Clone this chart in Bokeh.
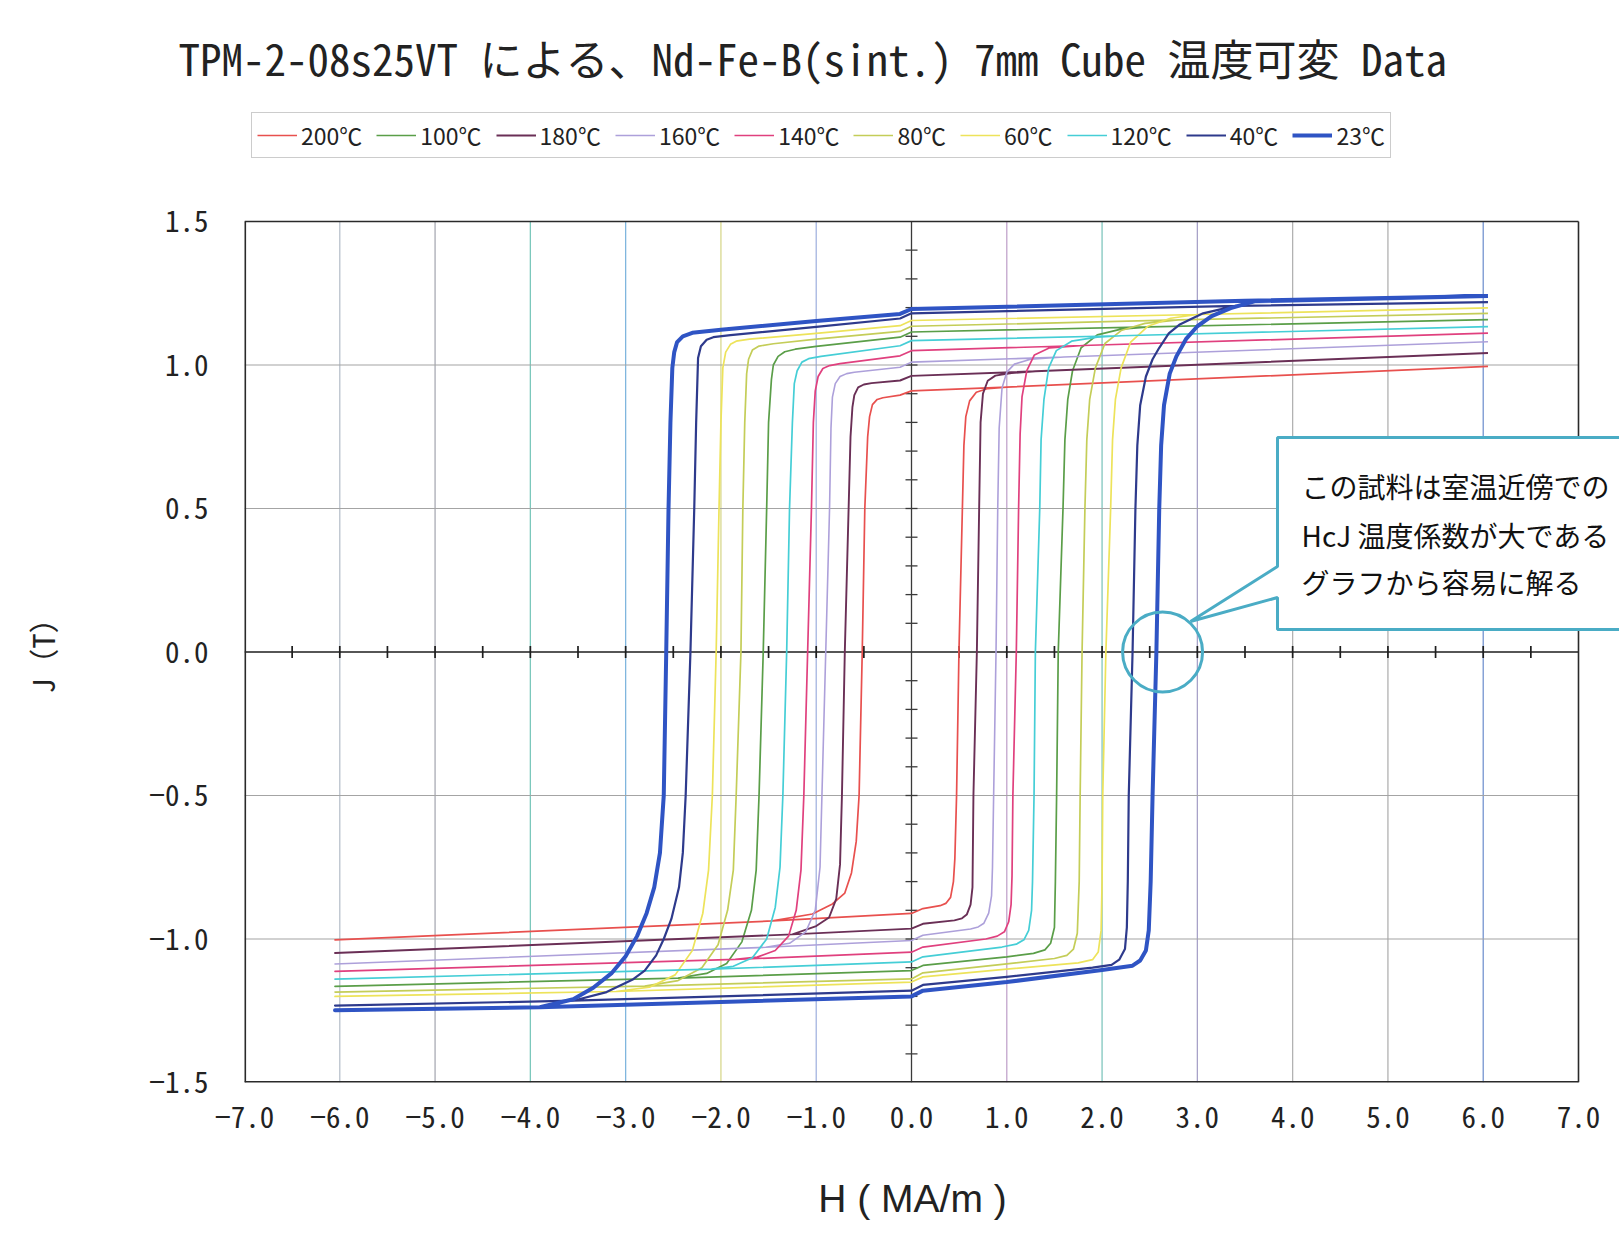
import numpy as np
from bokeh.plotting import figure
from bokeh.layouts import column
from bokeh.models import (Range1d, FixedTicker, Label, Legend, LegendItem, PolyAnnotation)
from bokeh.embed import file_html
from bokeh.resources import INLINE

# ---------------- texts ----------------
TITLE = "TPM-2-08s25VT による、Nd-Fe-B(sint.) 7mm Cube 温度可変 Data"
X_LABEL = "H ( MA/m )"
Y_LABEL = "J（T）"
NOTE_LINES = ["この試料は室温近傍での", "HcJ 温度係数が大である", "グラフから容易に解る"]

X_TICKS = [-7, -6, -5, -4, -3, -2, -1, 0, 1, 2, 3, 4, 5, 6, 7]
X_TICK_LABELS = ["−7.0", "−6.0", "−5.0", "−4.0", "−3.0", "−2.0", "−1.0", "0.0",
                 "1.0", "2.0", "3.0", "4.0", "5.0", "6.0", "7.0"]
Y_TICKS = [-1.5, -1.0, -0.5, 0.0, 0.5, 1.0, 1.5]
Y_TICK_LABELS = ["−1.5", "−1.0", "−0.5", "0.0", "0.5", "1.0", "1.5"]

SERIES_LABELS = ["200℃", "100℃", "180℃", "160℃", "140℃", "80℃", "60℃", "120℃", "40℃", "23℃"]

# ---------------- loops (H [MA/m], J [T]) ----------------
LOOP_23 = [(6.05, 1.240), (3.5, 1.224), (0.0, 1.195), (-0.12, 1.178), (-1.0, 1.153), (-2.0, 1.123),
           (-2.3, 1.112), (-2.40, 1.100), (-2.46, 1.080), (-2.49, 1.045), (-2.51, 0.99), (-2.53, 0.80),
           (-2.55, 0.50), (-2.574, 0.0), (-2.60, -0.50), (-2.64, -0.70), (-2.70, -0.82), (-2.78, -0.91),
           (-2.88, -0.99), (-3.00, -1.06), (-3.15, -1.12), (-3.34, -1.17), (-3.55, -1.21), (-3.9, -1.238),
           (-6.05, -1.248),
           (-3.9, -1.238), (0.0, -1.200), (0.12, -1.180), (1.0, -1.150), (2.0, -1.108), (2.32, -1.093),
           (2.40, -1.075), (2.46, -1.040), (2.49, -0.97), (2.51, -0.80), (2.53, -0.50), (2.57, 0.0),
           (2.60, 0.50), (2.62, 0.72), (2.65, 0.86), (2.71, 0.97), (2.78, 1.03), (2.88, 1.09),
           (3.00, 1.135), (3.15, 1.17), (3.35, 1.198), (3.6, 1.222), (6.05, 1.240)]
LOOP_40 = [(6.05, 1.219), (3.4, 1.206), (0.0, 1.180), (-0.12, 1.162), (-1.0, 1.133), (-1.9, 1.104),
           (-2.08, 1.097), (-2.15, 1.088), (-2.21, 1.065), (-2.24, 1.024), (-2.26, 0.80), (-2.28, 0.50),
           (-2.32, 0.0), (-2.37, -0.50), (-2.40, -0.70), (-2.44, -0.82), (-2.52, -0.93), (-2.60, -1.00),
           (-2.68, -1.057), (-2.80, -1.11), (-2.92, -1.14), (-3.2, -1.185), (-3.55, -1.215), (-6.05, -1.232),
           (-3.55, -1.215), (0.0, -1.180), (0.12, -1.160), (1.0, -1.132), (1.9, -1.100), (2.10, -1.090),
           (2.18, -1.072), (2.24, -1.035), (2.26, -0.96), (2.27, -0.80), (2.28, -0.50), (2.32, 0.0),
           (2.35, 0.50), (2.37, 0.72), (2.40, 0.86), (2.46, 0.96), (2.53, 1.02), (2.60, 1.06),
           (2.70, 1.11), (2.81, 1.14), (3.06, 1.18), (3.4, 1.206), (6.05, 1.219)]
LOOP_60 = [(6.05, 1.199), (3.0, 1.176), (0.0, 1.155), (-0.12, 1.137), (-1.0, 1.110), (-1.7, 1.090),
           (-1.84, 1.083), (-1.90, 1.072), (-1.95, 1.045), (-1.98, 0.99), (-2.00, 0.80), (-2.02, 0.50),
           (-2.05, 0.0), (-2.09, -0.50), (-2.13, -0.76), (-2.19, -0.91), (-2.30, -1.04), (-2.48, -1.125),
           (-2.75, -1.168), (-3.1, -1.183), (-6.05, -1.200),
           (-3.1, -1.183), (0.0, -1.150), (0.12, -1.132), (1.0, -1.105), (1.75, -1.083), (1.90, -1.072),
           (1.96, -1.045), (1.99, -0.97), (2.00, -0.80), (2.007, -0.50), (2.04, 0.0), (2.09, 0.50),
           (2.11, 0.74), (2.14, 0.88), (2.20, 0.99), (2.30, 1.08), (2.48, 1.135), (2.72, 1.163),
           (3.0, 1.176), (6.05, 1.199)]
LOOP_80 = [(6.05, 1.180), (2.8, 1.157), (0.0, 1.135), (-0.12, 1.117), (-1.0, 1.090), (-1.45, 1.074),
           (-1.60, 1.066), (-1.67, 1.052), (-1.71, 1.02), (-1.73, 0.97), (-1.75, 0.80), (-1.77, 0.50),
           (-1.79, 0.0), (-1.84, -0.50), (-1.87, -0.76), (-1.93, -0.90), (-2.03, -1.02), (-2.20, -1.10),
           (-2.45, -1.145), (-2.8, -1.164), (-6.05, -1.185),
           (-2.8, -1.164), (0.0, -1.139), (0.12, -1.118), (1.0, -1.087), (1.50, -1.068), (1.63, -1.057),
           (1.70, -1.035), (1.74, -0.98), (1.76, -0.80), (1.77, -0.50), (1.79, 0.0), (1.82, 0.50),
           (1.84, 0.74), (1.87, 0.88), (1.93, 0.99), (2.03, 1.075), (2.20, 1.12), (2.45, 1.145),
           (2.8, 1.157), (6.05, 1.180)]
LOOP_100 = [(6.05, 1.158), (2.5, 1.133), (0.0, 1.115), (-0.12, 1.097), (-1.0, 1.065), (-1.22, 1.055),
            (-1.33, 1.046), (-1.40, 1.030), (-1.45, 1.00), (-1.47, 0.95), (-1.50, 0.80), (-1.52, 0.50),
            (-1.556, 0.0), (-1.60, -0.50), (-1.63, -0.76), (-1.68, -0.90), (-1.78, -1.01), (-1.94, -1.085),
            (-2.15, -1.12), (-2.45, -1.136), (-6.05, -1.165),
            (-2.45, -1.136), (0.0, -1.110), (0.12, -1.092), (1.0, -1.062), (1.28, -1.050), (1.40, -1.038),
            (1.46, -1.015), (1.50, -0.96), (1.51, -0.80), (1.523, -0.50), (1.54, 0.0), (1.59, 0.50),
            (1.61, 0.74), (1.64, 0.88), (1.69, 0.98), (1.78, 1.06), (1.95, 1.105), (2.2, 1.125),
            (2.5, 1.133), (6.05, 1.158)]
LOOP_120 = [(6.05, 1.134), (2.2, 1.102), (0.0, 1.085), (-0.12, 1.067), (-0.95, 1.030), (-1.08, 1.022),
            (-1.15, 1.010), (-1.20, 0.98), (-1.23, 0.935), (-1.25, 0.80), (-1.28, 0.50), (-1.31, 0.0),
            (-1.35, -0.50), (-1.38, -0.75), (-1.43, -0.89), (-1.52, -1.00), (-1.67, -1.065),
            (-1.87, -1.095), (-2.1, -1.105), (-6.05, -1.140),
            (-2.1, -1.105), (0.0, -1.080), (0.12, -1.062), (0.95, -1.028), (1.10, -1.018), (1.18, -1.003),
            (1.23, -0.97), (1.26, -0.90), (1.27, -0.80), (1.286, -0.50), (1.30, 0.0), (1.346, 0.50),
            (1.36, 0.74), (1.39, 0.88), (1.44, 0.99), (1.52, 1.05), (1.68, 1.083), (1.95, 1.097),
            (2.2, 1.102), (6.05, 1.134)]
LOOP_140 = [(6.05, 1.111), (1.8, 1.068), (0.0, 1.050), (-0.12, 1.032), (-0.75, 1.005), (-0.86, 0.998),
            (-0.93, 0.988), (-0.98, 0.96), (-1.01, 0.91), (-1.03, 0.80), (-1.05, 0.50), (-1.09, 0.0),
            (-1.13, -0.50), (-1.16, -0.76), (-1.21, -0.90), (-1.29, -0.99), (-1.43, -1.04),
            (-1.62, -1.063), (-1.85, -1.071), (-6.05, -1.113),
            (-1.85, -1.071), (0.0, -1.046), (0.12, -1.028), (0.78, -1.000), (0.90, -0.990), (0.975, -0.975),
            (1.02, -0.94), (1.045, -0.88), (1.055, -0.78), (1.064, -0.50), (1.10, 0.0), (1.124, 0.50),
            (1.14, 0.76), (1.16, 0.89), (1.21, 0.98), (1.29, 1.035), (1.45, 1.060), (1.8, 1.068),
            (6.05, 1.111)]
LOOP_160 = [(6.05, 1.081), (1.6, 1.028), (0.0, 1.010), (-0.12, 0.992), (-0.60, 0.975), (-0.68, 0.970),
            (-0.75, 0.960), (-0.80, 0.935), (-0.83, 0.888), (-0.845, 0.78), (-0.86, 0.50), (-0.90, 0.0),
            (-0.94, -0.50), (-0.96, -0.75), (-1.01, -0.90), (-1.11, -0.975), (-1.28, -1.015),
            (-1.53, -1.029), (-6.05, -1.087),
            (-1.53, -1.029), (0.0, -1.005), (0.12, -0.987), (0.62, -0.965), (0.70, -0.958), (0.76, -0.945),
            (0.81, -0.91), (0.84, -0.85), (0.85, -0.75), (0.862, -0.50), (0.887, 0.0), (0.905, 0.50),
            (0.92, 0.78), (0.95, 0.92), (1.00, 0.975), (1.08, 1.003), (1.25, 1.020), (1.6, 1.028),
            (6.05, 1.081)]
LOOP_180 = [(6.05, 1.042), (1.3, 0.978), (0.0, 0.962), (-0.12, 0.946), (-0.42, 0.937), (-0.50, 0.932),
            (-0.56, 0.922), (-0.60, 0.895), (-0.62, 0.853), (-0.64, 0.75), (-0.66, 0.50), (-0.70, 0.0),
            (-0.73, -0.50), (-0.75, -0.74), (-0.79, -0.86), (-0.865, -0.925), (-1.0, -0.955),
            (-1.25, -0.984), (-6.05, -1.049),
            (-1.25, -0.984), (0.0, -0.964), (0.12, -0.947), (0.45, -0.935), (0.53, -0.928), (0.58, -0.915),
            (0.62, -0.88), (0.64, -0.82), (0.65, -0.50), (0.686, 0.0), (0.71, 0.50), (0.725, 0.80),
            (0.75, 0.90), (0.80, 0.945), (0.88, 0.963), (1.05, 0.972), (1.3, 0.978), (6.05, 1.042)]
LOOP_200 = [(6.05, 0.995), (1.0, 0.923), (0.0, 0.910), (-0.12, 0.895), (-0.30, 0.886), (-0.36, 0.880),
            (-0.41, 0.862), (-0.44, 0.82), (-0.46, 0.75), (-0.49, 0.50), (-0.517, 0.0), (-0.55, -0.50),
            (-0.58, -0.66), (-0.63, -0.77), (-0.70, -0.84), (-0.83, -0.878), (-1.04, -0.913),
            (-1.46, -0.937), (-6.05, -1.003),
            (-1.46, -0.937), (0.0, -0.911), (0.12, -0.894), (0.30, -0.884), (0.36, -0.876), (0.41, -0.855),
            (0.44, -0.80), (0.455, -0.72), (0.473, -0.50), (0.498, 0.0), (0.534, 0.50), (0.55, 0.72),
            (0.57, 0.82), (0.61, 0.875), (0.68, 0.905), (0.80, 0.918), (1.0, 0.923), (6.05, 0.995)]

# marked point (HcJ of the 23 C curve)
NOTE_H = 2.635
NOTE_J = 0.0

# ---------------- styles ----------------
LOOPS = [LOOP_200, LOOP_100, LOOP_180, LOOP_160, LOOP_140, LOOP_80, LOOP_60, LOOP_120, LOOP_40, LOOP_23]
COLORS = ["#E8504E", "#5A9E48", "#6A2F56", "#ADA0DA", "#E0407E", "#C4CD58", "#EDE35A",
          "#45CED6", "#2E3A8C", "#2F54C4"]
WIDTHS = [1.7, 1.7, 1.9, 1.6, 1.7, 1.7, 1.7, 1.7, 2.2, 4.0]

VGRID_H = [-6, -5, -4, -3, -2, -1, 1, 2, 3, 4, 5, 6]
VGRID_COLORS = ["#b9c1cc", "#a9abb4", "#7cc8bc", "#80b6de", "#d8d88e", "#a4b4e0",
                "#c2a4cc", "#80c6be", "#a8a2c8", "#b2b2b2", "#b2b2b2", "#7494d0"]
HGRID_J = [-1.0, -0.5, 0.5, 1.0]
CALLOUT = "#4AACC5"
MONO = "Noto Sans Mono CJK JP"
SANS = "Noto Sans CJK JP"

W, H = 1619, 1235
HEAD = 184                           # height of the header strip (title + legend)
HEAD_TITLE = 92                      # title band inside the header
FL, FT, FB = 244, 221, 1082          # plot box edges in page pixels
BOX_R = 1578                         # right edge of the plot box (H = 7.0)
XMIN, XMAX = X_TICKS[0], X_TICKS[-1]
YMIN, YMAX = Y_TICKS[0], Y_TICKS[-1]
px_x = (BOX_R - FL) / (XMAX - XMIN)
px_y = (FB - FT) / (YMAX - YMIN)
x_end = XMAX + (W - BOX_R) / px_x    # frame runs to the page edge so the note box can reach it
y_end = YMAX + (FT - HEAD) / px_y

# ---------------- main plot ----------------
p = figure(width=W, height=H - HEAD, x_range=Range1d(XMIN, x_end), y_range=Range1d(YMIN, y_end),
           output_backend="svg", toolbar_location=None,
           min_border_left=FL, min_border_right=0, min_border_top=0, min_border_bottom=H - FB)
p.background_fill_color = "white"
p.border_fill_color = "white"
p.outline_line_color = None
p.xgrid.visible = False
p.ygrid.visible = False

xa = p.xaxis[0]
xa.ticker = FixedTicker(ticks=X_TICKS)
xa.major_label_overrides = {float(t): s for t, s in zip(X_TICKS, X_TICK_LABELS)}
ya = p.yaxis[0]
ya.ticker = FixedTicker(ticks=Y_TICKS)
ya.major_label_overrides = {float(t): s for t, s in zip(Y_TICKS, Y_TICK_LABELS)}
for ax in (xa, ya):
    ax.axis_line_color = None
    ax.major_tick_line_color = None
    ax.minor_tick_line_color = None
    ax.major_tick_out = 0
    ax.major_tick_in = 0
    ax.major_label_text_font = MONO
    ax.major_label_text_font_size = "29px"
    ax.major_label_text_color = "#222222"
    ax.axis_label_text_font_style = "normal"
    ax.axis_label_text_color = "#222222"
xa.major_label_standoff = 24
xa.axis_label = X_LABEL + "\u2003"
xa.axis_label_text_font = "Liberation Sans"
xa.axis_label_text_font_size = "39px"
xa.axis_label_standoff = 46
ya.major_label_standoff = 36
ya.axis_label = Y_LABEL + "\u2003"
ya.axis_label_text_font = MONO
ya.axis_label_text_font_size = "30px"
ya.axis_label_standoff = 82

# coloured vertical gridlines, limited to the plot box
p.segment(x0=VGRID_H, y0=[YMIN] * len(VGRID_H), x1=VGRID_H, y1=[YMAX] * len(VGRID_H),
          line_color=VGRID_COLORS, line_width=1.3)
# horizontal gridlines
p.segment(x0=[XMIN] * len(HGRID_J), y0=HGRID_J, x1=[XMAX] * len(HGRID_J), y1=HGRID_J,
          line_color="#a4a4a4", line_width=1.1)
# axes crossing at the origin
p.segment(x0=[XMIN, 0.0], y0=[0.0, YMIN], x1=[XMAX, 0.0], y1=[0.0, YMAX],
          line_color=["#1e1e1e", "#3a3a3a"], line_width=[1.7, 1.3])
hx = [float(t) for t in np.arange(-6.5, 6.51, 0.5) if abs(t) > 1e-9]
p.scatter(hx, [0.0] * len(hx), marker="dash", angle=np.pi / 2, size=12,
          line_color="#1e1e1e", line_width=1.7)
vy = [float(t) for t in np.round(np.arange(-1.4, 1.41, 0.1), 2) if abs(t) > 1e-9]
p.scatter([0.0] * len(vy), vy, marker="dash", size=12, line_color="#3a3a3a", line_width=1.3)

# plot box border
p.segment(x0=[XMIN, XMIN, XMIN, XMAX], y0=[YMAX, YMIN, YMIN, YMIN],
          x1=[XMAX, XMAX, XMIN, XMAX], y1=[YMAX, YMIN, YMAX, YMAX],
          line_color="#2a2a2a", line_width=[1.6, 3.2, 3.2, 1.6])

for lbl, loop, col, wd in zip(SERIES_LABELS, LOOPS, COLORS, WIDTHS):
    hs = [pt[0] for pt in loop]
    js = [pt[1] for pt in loop]
    p.line(hs, js, line_color=col, line_width=wd, line_join="round", name=lbl)

# circle around HcJ of 23 C
p.scatter([NOTE_H], [NOTE_J], marker="circle", size=80, fill_color=None,
          line_color=CALLOUT, line_width=3)

# callout box with pointer (page pixels -> frame-relative screen units)
cx = [1277, 1640, 1640, 1277, 1277, 1190, 1277]
cy = [437, 437, 629, 629, 597, 621, 566]
p.add_layout(PolyAnnotation(xs=[x - FL for x in cx], ys=[FB - y for y in cy],
                            xs_units="screen", ys_units="screen",
                            fill_color="white", fill_alpha=1.0,
                            line_color=CALLOUT, line_alpha=1.0, line_width=3, level="overlay"))
for txt, yy in zip(NOTE_LINES, [485, 534, 581]):
    p.add_layout(Label(x=1301 - FL, y=FB - yy, x_units="screen", y_units="screen", text=txt,
                       text_font=SANS, text_font_size="28px", text_color="#111111",
                       text_baseline="middle", text_align="left", level="overlay"))

# ---------------- header strip: title + legend ----------------
# its ranges are placed away from the loop values so the legend's sample lines stay out of view
hd = figure(width=W, height=HEAD, x_range=Range1d(1000, 1000 + W - FL),
            y_range=Range1d(1000, 1000 + HEAD - HEAD_TITLE),
            x_axis_type=None, y_axis_type=None, output_backend="svg", toolbar_location=None,
            min_border_left=FL, min_border_right=0, min_border_top=HEAD_TITLE, min_border_bottom=0)
hd.outline_line_color = None
hd.background_fill_color = "white"
hd.border_fill_color = "white"
hd.xgrid.visible = False
hd.ygrid.visible = False

items = []
for lbl, loop, col, wd in zip(SERIES_LABELS, LOOPS, COLORS, WIDTHS):
    r = hd.line([pt[0] for pt in loop], [pt[1] for pt in loop], line_color=col, line_width=wd)
    items.append(LegendItem(label=lbl, renderers=[r]))
legend = Legend(items=items, orientation="horizontal", location=(251 - FL, HEAD - 158),
                glyph_width=40, glyph_height=20, label_standoff=4, spacing=14, padding=5, margin=0,
                label_text_font=SANS, label_text_font_size="23px", label_text_color="#222222",
                border_line_color="#9a9a9a", border_line_width=1.2,
                background_fill_color="white", background_fill_alpha=1.0)
hd.add_layout(legend)

hd.title.text = TITLE
hd.title.text_font = MONO
hd.title.text_font_size = "43px"
hd.title.text_font_style = "normal"
hd.title.text_color = "#222222"
hd.title.align = "left"
hd.title.offset = 810 - 632 - FL
hd.title.standoff = 10
hd.title.vertical_align = "bottom"

layout = column(hd, p, spacing=0)
open("out.html", "w").write(file_html(layout, INLINE))
